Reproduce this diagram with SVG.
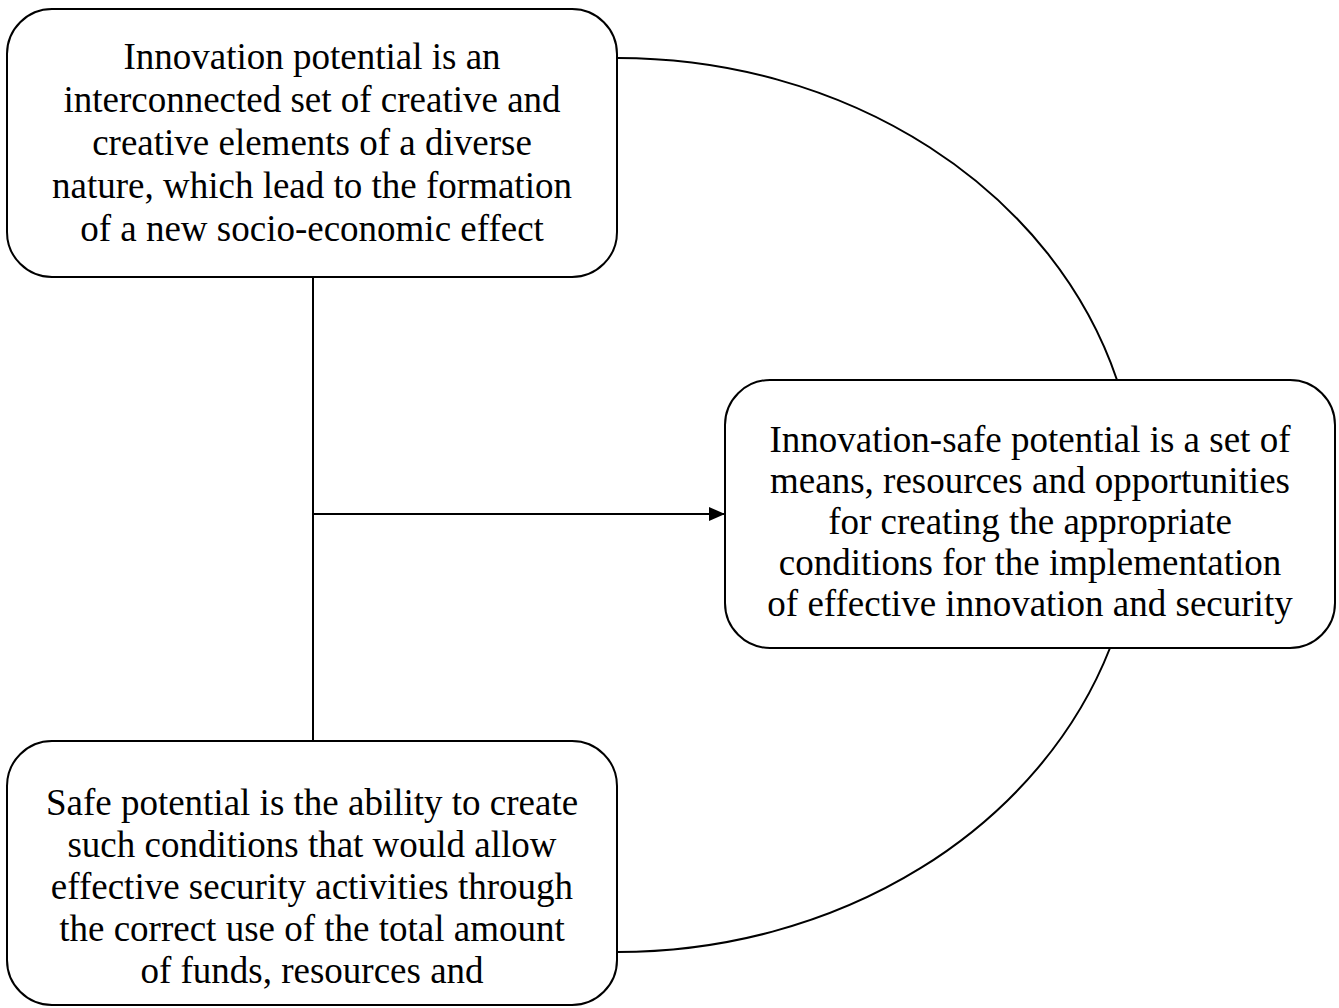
<svg xmlns="http://www.w3.org/2000/svg" width="1339" height="1008" viewBox="0 0 1339 1008">
<style>
.box{fill:#fff;stroke:#000;stroke-width:2}
.t{font-family:"Liberation Serif","Times New Roman",serif;font-size:37px;fill:#000;text-anchor:middle}
.c{fill:none;stroke:#000;stroke-width:2}
</style>
<defs>
<marker id="ah" markerWidth="16" markerHeight="16" refX="15" refY="8" orient="auto" markerUnits="userSpaceOnUse">
<path d="M0,1 L16,8 L0,15 z" fill="#000"/>
</marker>
</defs>
<rect width="1339" height="1008" fill="#fff"/>
<g id="connectors">
<path class="c" d="M617,58 A520,447 0 0 1 1117,380"/>
<path class="c" d="M1110,648 A520,447 0 0 1 617,952"/>
<path class="c" d="M313,277 L313,741"/>
<path class="c" d="M313,514 L724,514" marker-end="url(#ah)"/>
</g>
<g id="node-innovation">
<rect class="box" x="7" y="9" width="610" height="268" rx="45"/>
<text class="t" x="312" y="69">Innovation potential is an</text>
<text class="t" x="312" y="112">interconnected set of creative and</text>
<text class="t" x="312" y="155">creative elements of a diverse</text>
<text class="t" x="312" y="198">nature, which lead to the formation</text>
<text class="t" x="312" y="241">of a new socio-economic effect</text>
</g>
<g id="node-innovation-safe">
<rect class="box" x="725" y="380" width="610" height="268" rx="45"/>
<text class="t" x="1030" y="452">Innovation-safe potential is a set of</text>
<text class="t" x="1030" y="493">means, resources and opportunities</text>
<text class="t" x="1030" y="534">for creating the appropriate</text>
<text class="t" x="1030" y="575">conditions for the implementation</text>
<text class="t" x="1030" y="616">of effective innovation and security</text>
</g>
<g id="node-safe">
<rect class="box" x="7" y="741" width="610" height="264" rx="45"/>
<text class="t" x="312" y="815">Safe potential is the ability to create</text>
<text class="t" x="312" y="857">such conditions that would allow</text>
<text class="t" x="312" y="899">effective security activities through</text>
<text class="t" x="312" y="941">the correct use of the total amount</text>
<text class="t" x="312" y="983">of funds, resources and</text>
</g>
</svg>
